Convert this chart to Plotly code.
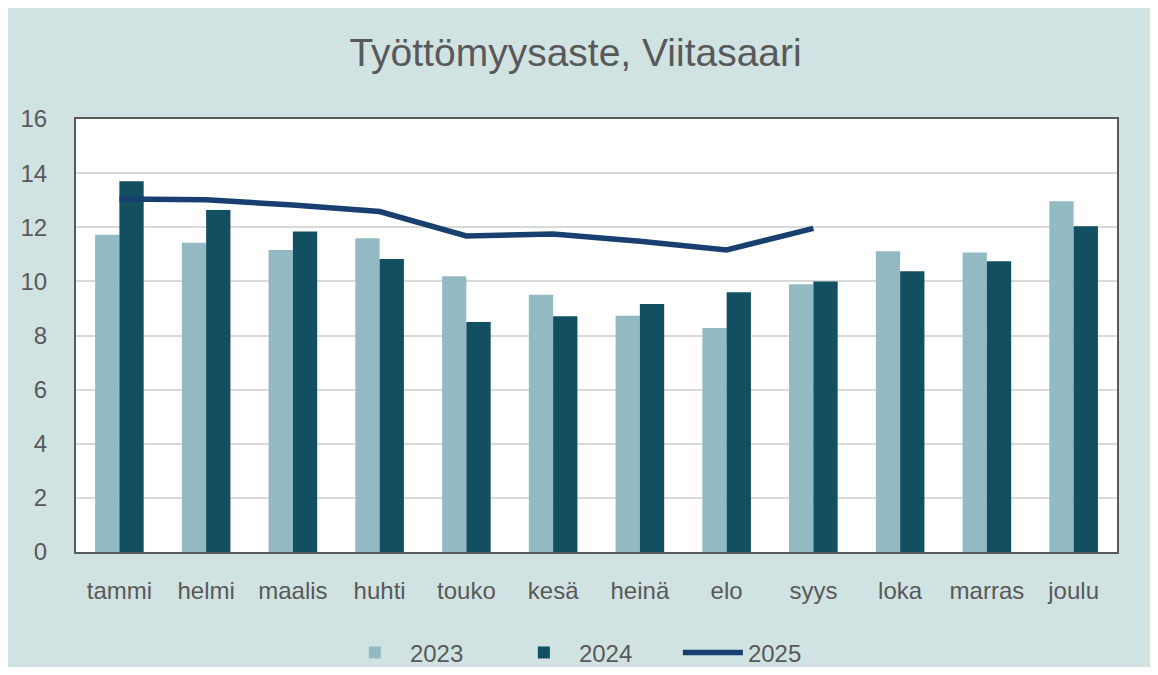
import plotly.graph_objects as go

months = ["tammi", "helmi", "maalis", "huhti", "touko", "kesä", "heinä", "elo", "syys", "loka", "marras", "joulu"]
v2023 = [11.72, 11.43, 11.16, 11.59, 10.19, 9.51, 8.73, 8.28, 9.89, 11.11, 11.07, 12.96]
v2024 = [13.70, 12.64, 11.84, 10.83, 8.50, 8.71, 9.16, 9.60, 10.00, 10.37, 10.74, 12.04]
months2025 = ["tammi", "helmi", "maalis", "huhti", "touko", "kesä", "heinä", "elo", "syys"]
v2025 = [13.04, 13.02, 12.82, 12.58, 11.68, 11.75, 11.48, 11.16, 11.96]
ytick_vals = [0, 2, 4, 6, 8, 10, 12, 14, 16]

FONT = "Liberation Sans"
GRAY = "#595959"

fig = go.Figure()
fig.add_trace(go.Bar(x=months, y=v2023, name="2023", marker=dict(color="#93BAC2", line=dict(width=0))))
fig.add_trace(go.Bar(x=months, y=v2024, name="2024", marker=dict(color="#114F61", line=dict(width=0))))
fig.add_trace(go.Scatter(x=months2025, y=v2025, name="2025", mode="lines",
                         line=dict(color="#173F6F", width=5.5, shape="linear")))

fig.update_layout(
    width=1142, height=659,
    paper_bgcolor="#D0E3E2", plot_bgcolor="#FFFFFF",
    margin=dict(l=68, r=33, t=111, b=115, autoexpand=False),
    barmode="group", bargap=0.44, bargroupgap=0,
    font=dict(family=FONT, color=GRAY, size=24),
    title=dict(text="Työttömyysaste, Viitasaari", x=0.497, xanchor="center", y=0.933, yanchor="middle",
               font=dict(family=FONT, size=39, color=GRAY)),
    showlegend=True,
    legend=dict(orientation="h", x=0.497, xanchor="center", y=-0.233, yanchor="middle",
                font=dict(size=24, color=GRAY), bgcolor="rgba(0,0,0,0)", traceorder="normal",
                itemwidth=60, entrywidth=94),
    xaxis=dict(showline=True, linecolor="#5A5A5A", linewidth=2, mirror=True, automargin=False,
               showgrid=False, ticks="", ticklabelstandoff=16,
               tickfont=dict(size=24, color=GRAY)),
    yaxis=dict(range=[0, 16], tickvals=ytick_vals, showline=True, linecolor="#5A5A5A", linewidth=2,
               mirror=True, showgrid=True, gridcolor="#D9D9D9", gridwidth=1.5, ticks="", automargin=False,
               ticklabelstandoff=22, zeroline=False, tickfont=dict(size=24, color=GRAY)),
)

fig.write_html("out.html")
